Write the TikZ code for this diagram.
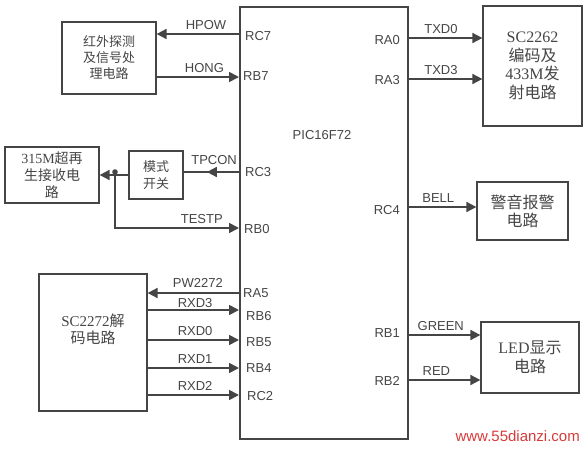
\documentclass[tikz,border=0pt]{standalone}
\usepackage{fontspec}
\setmainfont{Liberation Serif}
\newfontfamily\cjk{Noto Sans CJK SC}
\newfontfamily\pinfont{Liberation Sans}
\usetikzlibrary{arrows.meta, positioning, calc}

\definecolor{ink}{HTML}{454545}
\definecolor{mark}{HTML}{D83A3A}
\newcommand{\zh}[1]{{\cjk #1}}

\begin{document}
\begin{tikzpicture}[
        x=1pt, y=-1pt,
        box/.style={rectangle, draw=ink, line width=1.2pt, align=center, text=ink, inner sep=2pt},
        pin/.style={font=\pinfont\fontsize{13}{15}\selectfont, text=ink, inner sep=1pt},
        sig/.style={font=\pinfont\fontsize{13}{15}\selectfont, text=ink, inner sep=1pt},
        wire/.style={draw=ink, line width=1.7pt},
        arrow/.style={wire, -{Triangle[length=10pt, width=10pt]}}
    ]
    \useasboundingbox (0,0) rectangle (584,448);

    % MCU
    \node (mcu) [draw=ink, line width=1.7pt, minimum width=168, minimum height=432, anchor=north west, inner sep=0pt] at (239,6) {};
    \node (mcuname) [pin] at (322,135) {PIC16F72};

    % peripheral blocks
    \node (ir) [box, minimum width=94, minimum height=72, font=\fontsize{13}{16}\selectfont] at (109,58) {\zh{红外探测}\\\zh{及信号处}\\\zh{理电路}};
    \node (enc) [box, minimum width=99, minimum height=120, font=\fontsize{16}{18.5}\selectfont] at (532.5,66) {SC2262\\\zh{编码及}\\433M\zh{发}\\\zh{射电路}};
    \node (rx) [box, minimum width=94, minimum height=56, font=\fontsize{14}{17}\selectfont] at (52,175) {315M\zh{超再}\\\zh{生接收电}\\\zh{路}};
    \node (mode) [box, minimum width=54, minimum height=48, font=\fontsize{13}{17}\selectfont] at (156,175) {\zh{模式}\\\zh{开关}};
    \node (bell) [box, minimum width=91, minimum height=58, font=\fontsize{16}{18}\selectfont] at (522.5,211) {\zh{警音报警}\\\zh{电路}};
    \node (dec) [box, minimum width=108, minimum height=137, font=\fontsize{15}{17}\selectfont] at (93,342.5) {SC2272\zh{解}\\\zh{码电路}\\[10pt]\mbox{}};
    \node (led) [box, minimum width=98, minimum height=71, font=\fontsize{16}{19}\selectfont] at (530,357.5) {LED\zh{显示}\\\zh{电路}};

    % pin points on the MCU edge
    \coordinate (RC7) at (239,34);
    \coordinate (RB7) at (239,77);
    \coordinate (RC3) at (239,172);
    \coordinate (RB0) at (239,228);
    \coordinate (RA5) at (239,293);
    \coordinate (RB6) at (239,310);
    \coordinate (RB5) at (239,340);
    \coordinate (RB4) at (239,368);
    \coordinate (RC2) at (239,395);
    \coordinate (RA0) at (407,38);
    \coordinate (RA3) at (407,79);
    \coordinate (RC4) at (407,207);
    \coordinate (RB1) at (407,335);
    \coordinate (RB2) at (407,380);

    % pin names
    \node (nRC7) [pin, anchor=west] at (244,36) {RC7};
    \node (nRB7) [pin, anchor=west] at (242,76) {RB7};
    \node (nRC3) [pin, anchor=west] at (244,172) {RC3};
    \node (nRB0) [pin, anchor=west] at (243,229) {RB0};
    \node (nRA5) [pin, anchor=west] at (242,293) {RA5};
    \node (nRB6) [pin, anchor=west] at (245,316) {RB6};
    \node (nRB5) [pin, anchor=west] at (245,342) {RB5};
    \node (nRB4) [pin, anchor=west] at (245,368) {RB4};
    \node (nRC2) [pin, anchor=west] at (246,396) {RC2};
    \node (nRA0) [pin, anchor=east] at (401,40) {RA0};
    \node (nRA3) [pin, anchor=east] at (401,80) {RA3};
    \node (nRC4) [pin, anchor=east] at (401,210) {RC4};
    \node (nRB1) [pin, anchor=east] at (401,333) {RB1};
    \node (nRB2) [pin, anchor=east] at (401,381) {RB2};

    % left side signals
    \draw [arrow] (RC7) -- (ir.east |- RC7) node [sig, pos=0.4, above=3pt] (hpow) {HPOW};
    \draw [arrow] (ir.east |- RB7) -- (RB7) node [sig, pos=0.58, above=3pt] (hong) {HONG};

    \coordinate (rc3mid) at ($(RC3)!0.58!(mode.east |- RC3)$);
    \draw [wire] (RC3) -- (mode.east |- RC3) node [sig, pos=0.45, above=6pt] (tpcon) {TPCON};
    \draw [arrow] (RC3) -- (rc3mid);
    \draw [arrow] (mode.west) -- (rx.east);
    \coordinate (tap) at (115,172);
    \fill [ink] (tap) circle (2.8pt);
    \draw [arrow] (tap) |- (RB0) node [sig, pos=0.85, above=3pt] (testp) {TESTP};

    \draw [arrow] (RA5) -- (dec.east |- RA5) node [sig, pos=0.45, above=4pt] (pw) {PW2272};
    \draw [arrow] (dec.east |- RB6) -- (RB6) node [sig, pos=0.52, above=1pt] (rxd3) {RXD3};
    \draw [arrow] (dec.east |- RB5) -- (RB5) node [sig, pos=0.52, above=3pt] (rxd0) {RXD0};
    \draw [arrow] (dec.east |- RB4) -- (RB4) node [sig, pos=0.52, above=3pt] (rxd1) {RXD1};
    \draw [arrow] (dec.east |- RC2) -- (RC2) node [sig, pos=0.52, above=3pt] (rxd2) {RXD2};

    % right side signals
    \draw [arrow] (RA0) -- (enc.west |- RA0) node [sig, pos=0.45, above=3pt] (txd0) {TXD0};
    \draw [arrow] (RA3) -- (enc.west |- RA3) node [sig, pos=0.45, above=3pt] (txd3) {TXD3};
    \draw [arrow] (RC4) -- (bell.west |- RC4) node [sig, pos=0.45, above=3pt] (bellsig) {BELL};
    \draw [arrow] (RB1) -- (led.west |- RB1) node [sig, pos=0.46, above=3pt] (green) {GREEN};
    \draw [arrow] (RB2) -- (led.west |- RB2) node [sig, pos=0.40, above=3pt] (red) {RED};

    % site mark
    \node (site) [font=\pinfont\fontsize{15}{17}\selectfont, text=mark, anchor=east, inner sep=0pt] at (580,436) {www.55dianzi.com};
\end{tikzpicture}
\end{document}
